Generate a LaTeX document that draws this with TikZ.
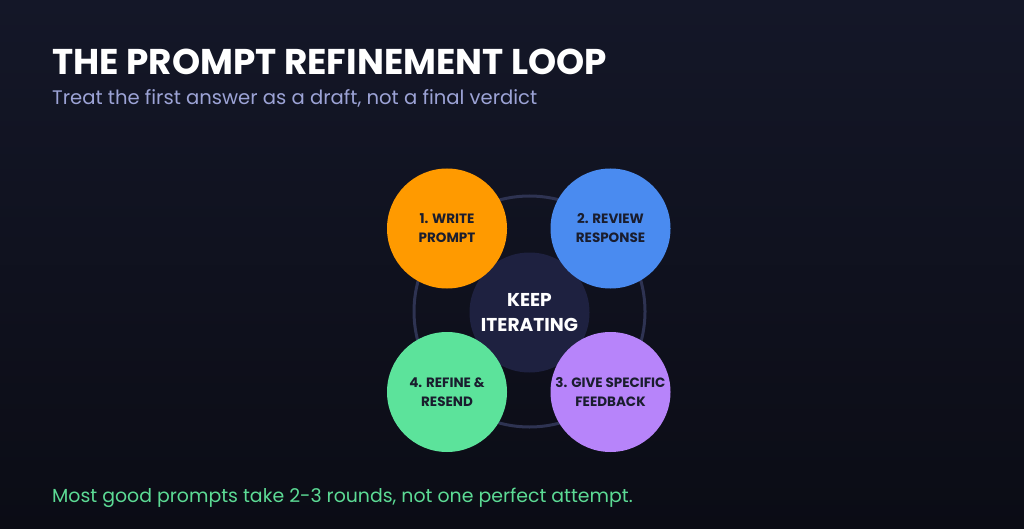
\documentclass[tikz,border=0pt]{standalone}
\usepackage{fontspec}
\setmainfont{Poppins}
\usetikzlibrary{positioning}
\definecolor{bgtop}{HTML}{141728}
\definecolor{bgbot}{HTML}{0B0C15}
\definecolor{ringcol}{HTML}{2E3352}
\definecolor{hubcol}{HTML}{1E2140}
\definecolor{inkdark}{HTML}{1A1D2E}
\definecolor{subcol}{HTML}{9CA3D6}
\definecolor{notecol}{HTML}{5CDB95}
\definecolor{myorange}{HTML}{FF9A00}
\definecolor{myblue}{HTML}{4A8BF0}
\definecolor{mygreen}{HTML}{5CE39B}
\definecolor{mypurple}{HTML}{B784FA}
\tikzset{
  stage/.style={circle,minimum size=120pt,inner sep=0pt,align=center,
    text=inkdark,font=\fontsize{13.5}{19}\selectfont\bfseries},
}
\begin{document}
\begin{tikzpicture}[x=1pt,y=-1pt]
\fill[top color=bgtop,bottom color=bgbot] (0,0) rectangle (1024,529);
\useasboundingbox (0,0) rectangle (1024,529);
% heading
\node[anchor=base west,inner sep=0pt,text=white,font=\fontsize{35.8}{42}\selectfont\bfseries] (title) at (52,75) {THE PROMPT REFINEMENT LOOP};
\node[anchor=base west,inner sep=0pt,text=subcol,font=\fontsize{19.6}{24}\selectfont] (sub) at (52,105) {Treat the first answer as a draft, not a final verdict};
% loop
\draw[ringcol,line width=3pt] (529.5,311.5) circle (115.5);
\node[circle,fill=hubcol,minimum size=120pt,inner sep=0pt,align=center,text=white,font=\fontsize{18.6}{25}\selectfont\bfseries] (hub) at (529.5,312.5) {KEEP\\ITERATING};
\node[stage,fill=myorange] (write) at (447,228.5) {1. WRITE\\PROMPT};
\node[stage,fill=myblue] (review) at (610.5,228.5) {2. REVIEW\\RESPONSE};
\node[stage,fill=mypurple] (feedback) at (610.5,392) {3. GIVE SPECIFIC\\FEEDBACK};
\node[stage,fill=mygreen] (refine) at (447,392) {4. REFINE \&\\RESEND};
% takeaway
\node[anchor=base west,inner sep=0pt,text=notecol,font=\fontsize{18.9}{23}\selectfont] (note) at (52,502) {Most good prompts take 2-3 rounds, not one perfect attempt.};
\end{tikzpicture}
\end{document}
